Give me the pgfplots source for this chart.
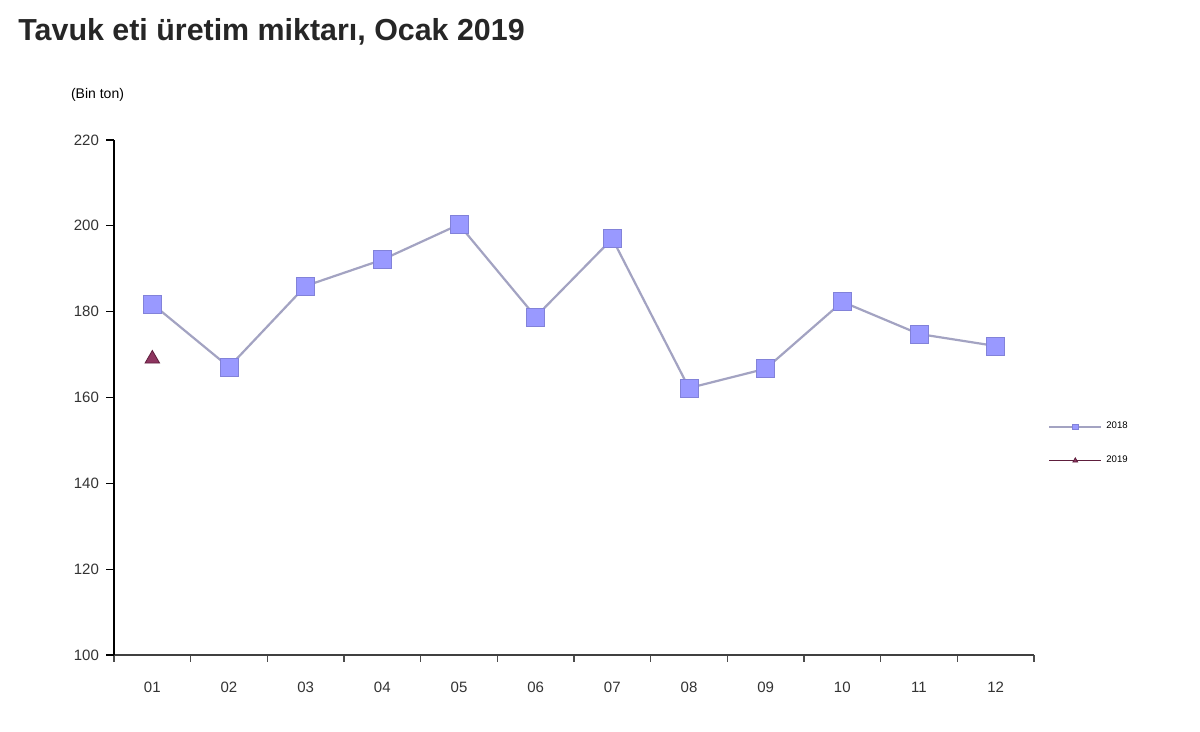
\documentclass[border=0pt]{standalone}
\usepackage{pgfplots}
\pgfplotsset{compat=1.18}
\usepackage{fontspec}
\setmainfont{Liberation Sans}
\definecolor{sqfill}{HTML}{9999FF}
\definecolor{sqline}{HTML}{A3A3C2}
\definecolor{trifill}{HTML}{8E3560}
\definecolor{tridraw}{HTML}{5E1E3C}
\begin{document}
\begin{tikzpicture}
\useasboundingbox[fill=white] (-57pt,-38.5pt) rectangle (543pt,327.5pt);
\node[anchor=base west,font=\bfseries\fontsize{15.2}{17}\selectfont,text=black!85,inner sep=0pt] at (-48pt,307pt) {Tavuk eti üretim miktarı, Ocak 2019};
\node[anchor=west,font=\fontsize{7}{8}\selectfont] at (-25pt,280pt) {(Bin ton)};
\begin{axis}[
  at={(0,0)}, anchor=origin,
  scale only axis, width=460pt, height=257.5pt,
  xmin=0.5, xmax=12.5, ymin=100, ymax=220,
  axis lines=left, axis line style={-},
  x axis line style={line width=1.2pt, black!75},
  y axis line style={line width=0.6pt, black},
  ytick={100,120,...,220},
  xtick={1,...,12},
  xticklabels={01,02,03,04,05,06,07,08,09,10,11,12},
  minor xtick={0.5,1.5,2.5,3.5,4.5,5.5,6.5,7.5,8.5,9.5,10.5,11.5,12.5},
  major x tick style={draw=none},
  minor x tick style={black!70, line width=0.6pt},
  y tick style={black, line width=0.6pt},
  tick align=outside,
  major tick length=4pt, minor tick length=3.5pt,
  tick label style={font=\fontsize{7.5}{9}\selectfont, text=black!80},
  /pgf/number format/assume math mode=true,
  xticklabel style={yshift=-6pt},
  clip=false,
  legend style={draw=none, fill=none, at={(1.015,0.41)}, anchor=west,
    font=\fontsize{4.8}{5}\selectfont, row sep=8pt, inner sep=0pt},
  legend cell align=left,
  legend image code/.code={\draw[#1, mark size=1.4pt, mark repeat=2, mark phase=2] plot coordinates {(0pt,0pt) (13pt,0pt) (26pt,0pt)};},
]
\addplot[color=sqline, line width=1.1pt, mark=square*, mark size=4.5pt,
  mark options={fill=sqfill, draw=sqfill!85!black, line width=0.3pt}]
  coordinates {(1,181.8) (2,167.1) (3,186.0) (4,192.1) (5,200.3) (6,178.8) (7,197.0) (8,162.2) (9,166.7) (10,182.3) (11,174.8) (12,172.0)};
\addlegendentry{2018}
\addplot[color=tridraw, line width=0.8pt, mark=triangle*, mark size=4.2pt,
  mark options={fill=trifill, draw=tridraw, line width=0.4pt}]
  coordinates {(1,169.0)};
\addlegendentry{2019}
\end{axis}
\end{tikzpicture}
\end{document}
